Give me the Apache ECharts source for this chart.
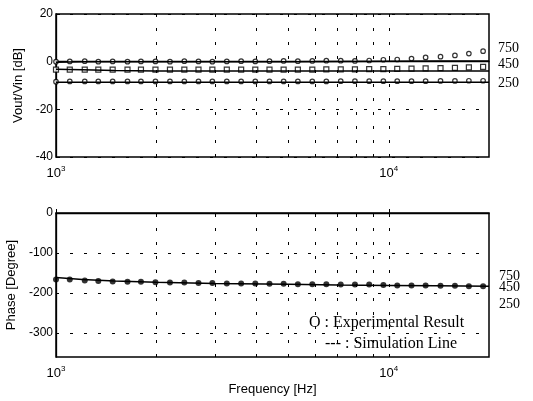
<!DOCTYPE html>
<html><head><meta charset="utf-8">
<script src="https://cdn.jsdelivr.net/npm/echarts@6/dist/echarts.min.js"></script>
<style>html,body{margin:0;padding:0;background:#fff}#c{width:533px;height:401px}</style>
</head><body><div id="c"></div>
<script>
// Measurement frequencies [Hz]
const freqs = [1000,1100,1220,1340,1480,1640,1800,1990,2200,2430,2680,2950,3260,3600,3970,4380,4830,5330,5890,6490,7170,7910,8730,9630,10600,11700,12900,14300,15800,17400,19200];
// Simulation frequencies [Hz]
const simFreqs = [1000,1200,1500,2000,3000,5000,7000,10000,14000,20000];
// Vertical grid frequencies
const gridFreqs = [2000,3000,4000,5000,6000,7000,8000,9000,10000];
const phaseGrid = [-100,-200,-300];

// Gain [dB], experimental
const exp750 = [0,0.1,0.2,0,0.1,0,0.1,0.1,0,0.2,0.1,0,0.1,0.2,0.1,0.2,0.3,0.2,0.3,0.4,0.4,0.3,0.5,0.8,0.9,1.3,1.8,2.1,2.6,3.4,4.4];
const exp450 = [-3.3,-3.3,-3.3,-3.3,-3.3,-3.3,-3.3,-3.3,-3.3,-3.3,-3.3,-3.3,-3.3,-3.3,-3.3,-3.3,-3.3,-3.3,-3.3,-3.2,-3.2,-3.2,-3.1,-3.1,-3.0,-2.9,-2.8,-2.7,-2.6,-2.4,-2.2];
const exp250 = [-8.4,-8.3,-8.3,-8.3,-8.3,-8.3,-8.3,-8.3,-8.3,-8.3,-8.3,-8.3,-8.3,-8.3,-8.3,-8.3,-8.3,-8.3,-8.3,-8.3,-8.2,-8.2,-8.2,-8.2,-8.2,-8.2,-8.2,-8.1,-8.1,-8.0,-8.0];
// Gain [dB], simulation
const sim750 = [-0.2,0,0,0,0,0,0.1,0.2,0.3,0.3];
const sim450 = [-3.2,-3.4,-3.7,-3.9,-3.9,-3.9,-3.9,-3.9,-3.9,-3.9];
const sim250 = [-8.6,-8.6,-8.6,-8.6,-8.6,-8.6,-8.6,-8.6,-8.6,-8.6];
// Phase [deg]
const phaseExp = [-166,-166,-169,-170,-171,-172,-172,-173,-174,-174,-175,-175,-176,-176,-176,-177,-177,-178,-178,-178,-179,-179,-179,-180,-181,-181,-181,-182,-182,-183,-183];
const phaseSim = [-161,-166,-170,-173,-176,-178,-180,-181,-182,-183];

const curveLabels = ['750','450','250'];

const pair = (xs, ys) => xs.map((x, i) => [x, ys[i]]);
const SANS = 'Liberation Sans';
const SERIF = 'Liberation Serif';
const dash = [3, 11];

function xAxisCfg(gi, showName) {
  return {
    type: 'log', logBase: 10, gridIndex: gi, min: 1000, max: 20000,
    axisLine: { show: true, lineStyle: { color: '#000', width: 1.3 } },
    axisTick: { show: true, inside: true, length: 4, lineStyle: { color: '#000' } },
    splitLine: { show: false },
    axisLabel: {
      margin: 8, showMaxLabel: false,
      formatter: v => (Math.abs(v - 1000) < 1 ? '{b|10}{s|3}' : (Math.abs(v - 10000) < 1 ? '{b|10}{s|4}' : '')),
      rich: {
        b: { fontFamily: SANS, fontSize: 13, color: '#000' },
        s: { fontFamily: SANS, fontSize: 8, color: '#000', padding: [0, 0, 9, 0] }
      }
    },
    name: showName ? 'Frequency [Hz]' : '', nameLocation: 'middle', nameGap: 26,
    nameTextStyle: { fontFamily: SANS, fontSize: 13, color: '#000' }
  };
}

const option = {
  animation: false,
  backgroundColor: '#fff',
  grid: [
    { left: 56, top: 14, width: 433, height: 143, show: true, borderColor: '#000', borderWidth: 1.5, backgroundColor: 'transparent', outerBoundsMode: 'none', containLabel: false },
    { left: 56, top: 213, width: 433, height: 144, show: true, borderColor: '#000', borderWidth: 1.5, backgroundColor: 'transparent', outerBoundsMode: 'none', containLabel: false }
  ],
  xAxis: [xAxisCfg(0, false), xAxisCfg(1, true)],
  yAxis: [
    {
      type: 'value', gridIndex: 0, min: -40, max: 20, interval: 20,
      axisLine: { show: true, lineStyle: { color: '#000', width: 1.3 } },
      axisTick: { show: true, inside: true, length: 4, lineStyle: { color: '#000' } },
      splitLine: { show: true, lineStyle: { color: '#000', type: dash, width: 1 } },
      axisLabel: { fontFamily: SANS, fontSize: 12, color: '#000', margin: 3 },
      name: 'Vout/Vin [dB]', nameLocation: 'middle', nameGap: 24,
      nameTextStyle: { fontFamily: SANS, fontSize: 13, color: '#000' }
    },
    {
      type: 'value', gridIndex: 1, min: -360, max: 0, interval: 20,
      axisLine: { show: true, lineStyle: { color: '#000', width: 1.3 } },
      axisTick: { show: false },
      splitLine: { show: false },
      axisLabel: { fontFamily: SANS, fontSize: 12, color: '#000', margin: 3,
        formatter: v => (v % 100 === 0 && v > -360 ? String(v) : '') },
      name: 'Phase [Degree]', nameLocation: 'middle', nameGap: 31,
      nameTextStyle: { fontFamily: SANS, fontSize: 13, color: '#000' }
    }
  ],
  series: [
    { type: 'line', xAxisIndex: 0, yAxisIndex: 0, data: [], silent: true,
      markLine: { silent: true, symbol: 'none', label: { show: false },
        lineStyle: { color: '#000', type: dash, width: 1 },
        data: gridFreqs.map(f => ({ xAxis: f })) } },
    { type: 'line', xAxisIndex: 1, yAxisIndex: 1, data: [], silent: true,
      markLine: { silent: true, symbol: 'none', label: { show: false },
        lineStyle: { color: '#000', type: dash, width: 1 },
        data: gridFreqs.map(f => ({ xAxis: f })).concat(phaseGrid.map(p => ({ yAxis: p }))) } },
    { type: 'line', xAxisIndex: 0, yAxisIndex: 0, data: pair(simFreqs, sim750), showSymbol: false, lineStyle: { color: '#000', width: 1.5 } },
    { type: 'line', xAxisIndex: 0, yAxisIndex: 0, data: pair(simFreqs, sim450), showSymbol: false, lineStyle: { color: '#000', width: 1.5 } },
    { type: 'line', xAxisIndex: 0, yAxisIndex: 0, data: pair(simFreqs, sim250), showSymbol: false, lineStyle: { color: '#000', width: 1.5 } },
    { type: 'line', xAxisIndex: 1, yAxisIndex: 1, data: pair(simFreqs, phaseSim), showSymbol: false, lineStyle: { color: '#000', width: 1.5 } },
    { type: 'scatter', xAxisIndex: 0, yAxisIndex: 0, data: pair(freqs, exp750), symbol: 'circle', symbolSize: 4.5,
      itemStyle: { color: '#fff', borderColor: '#000', borderWidth: 1.2 } },
    { type: 'scatter', xAxisIndex: 0, yAxisIndex: 0, data: pair(freqs, exp450), symbol: 'rect', symbolSize: 5,
      itemStyle: { color: '#fff', borderColor: '#000', borderWidth: 1.2 } },
    { type: 'scatter', xAxisIndex: 0, yAxisIndex: 0, data: pair(freqs, exp250), symbol: 'circle', symbolSize: 4.5,
      itemStyle: { color: '#fff', borderColor: '#000', borderWidth: 1.2 } },
    { type: 'scatter', xAxisIndex: 1, yAxisIndex: 1, data: pair(freqs, phaseExp), symbol: 'circle', symbolSize: 6,
      itemStyle: { color: '#000' } }
  ],
  graphic: [
    { type: 'text', left: 498, top: 41, style: { text: curveLabels[0], font: '14px ' + SERIF, fill: '#000' } },
    { type: 'text', left: 498, top: 57, style: { text: curveLabels[1], font: '14px ' + SERIF, fill: '#000' } },
    { type: 'text', left: 498, top: 76, style: { text: curveLabels[2], font: '14px ' + SERIF, fill: '#000' } },
    { type: 'text', left: 499, top: 269, style: { text: curveLabels[0], font: '14px ' + SERIF, fill: '#000' } },
    { type: 'text', left: 499, top: 280, style: { text: curveLabels[1], font: '14px ' + SERIF, fill: '#000' } },
    { type: 'text', left: 499, top: 297, style: { text: curveLabels[2], font: '14px ' + SERIF, fill: '#000' } },
    { type: 'text', x: 309, y: 323, style: { text: 'O : Experimental Result', font: '16px ' + SERIF, fill: '#000', verticalAlign: 'middle' } },
    { type: 'text', x: 325, y: 344, style: { text: '--- : Simulation Line', font: '16px ' + SERIF, fill: '#000', verticalAlign: 'middle' } }
  ]
};

const chart = echarts.init(document.getElementById('c'), null, { renderer: 'canvas' });
chart.setOption(option);
</script>
</body></html>
